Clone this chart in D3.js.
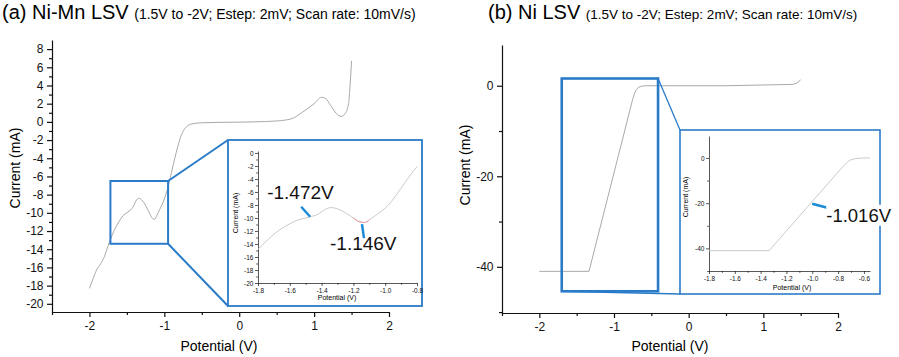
<!DOCTYPE html>
<html>
<head>
<meta charset="utf-8">
<script src="https://cdn.jsdelivr.net/npm/d3@7"></script>
<style>
  body { margin: 0; background: #fff; }
  svg { font-family: "Liberation Sans", Arial, sans-serif; }
</style>
</head>
<body>
<div id="chart"></div>
<script>
// ---- data ----
// (a) Ni-Mn LSV: potential (V) and current (mA)
var nimnV = [-2.00, -1.95, -1.90, -1.85, -1.80, -1.75, -1.70, -1.65, -1.60, -1.55, -1.50, -1.47,
             -1.42, -1.38, -1.34, -1.30, -1.25, -1.20, -1.16, -1.13, -1.10, -1.06, -1.02, -0.98,
             -0.94, -0.90, -0.86, -0.82, -0.78, -0.74, -0.70, -0.62, -0.50, -0.20, 0.20, 0.50,
             0.70, 0.85, 1.00, 1.10, 1.15, 1.22, 1.30, 1.36, 1.42, 1.46, 1.48, 1.50];
var nimnI = [-18.3, -17.2, -16.2, -15.6, -14.8, -13.6, -12.5, -11.6, -10.9, -10.3, -10.0, -9.8,
             -9.4, -8.7, -8.4, -8.6, -9.2, -10.0, -10.6, -10.7, -10.3, -9.6, -8.9, -8.0,
             -6.8, -5.4, -4.0, -2.7, -1.6, -0.9, -0.5, -0.2, -0.1, -0.05, 0.0, 0.1,
             0.35, 1.1, 2.0, 2.7, 2.6, 1.8, 0.9, 0.6, 1.0, 2.0, 4.0, 6.7];
// (b) Ni LSV
var niV = [-2.00, -1.335, -0.75, -0.72, -0.70, -0.67, -0.63, -0.58, 0.50, 1.40, 1.45, 1.50];
var niI = [-41.0, -41.0, -3.0, -1.5, -0.8, -0.35, -0.1, 0.0, 0.0, 0.3, 0.6, 1.3];

// ticks
var xTicksMain = [-2, -1, 0, 1, 2];
var xMinorMain = [-2.5, -1.5, -0.5, 0.5, 1.5];
var yTicksA = [8, 6, 4, 2, 0, -2, -4, -6, -8, -10, -12, -14, -16, -18, -20];
var yMinorA = [7, 5, 3, 1, -1, -3, -5, -7, -9, -11, -13, -15, -17, -19];
var yTicksB = [0, -20, -40];
var yMinorB = [-10, -30, -50];
var xTicksInA = [-1.8, -1.6, -1.4, -1.2, -1.0, -0.8];
var xMinorInA = [-1.7, -1.5, -1.3, -1.1, -0.9];
var yTicksInA = [0, -2, -4, -6, -8, -10, -12, -14, -16, -18, -20];
var yMinorInA = [-1, -3, -5, -7, -9, -11, -13, -15, -17, -19];
var xTicksInB = [-1.8, -1.6, -1.4, -1.2, -1.0, -0.8, -0.6];
var xMinorInB = [-1.7, -1.5, -1.3, -1.1, -0.9, -0.7];
var yTicksInB = [0, -20, -40];
var yMinorInB = [-10, -30, -50];

// zoom windows (V range, I range) and peak labels
var zoomA = [-1.72, -0.95, -6.5, -13.4];
var zoomB = [-1.70, -0.41, 1.6, -45.4];
var redPartA = [-1.20, -1.09];
var peaksA = [-1.472, -1.146];
var peakLabelsA = ["-1.472V", "-1.146V"];
var peaksB = [-1.016];
var peakLabelsB = ["-1.016V"];

var w = 899, h = 357;
var blue = "#2a7bc8";
var markBlue = "#1c8ad6";

var svg = d3.select("#chart").append("svg")
    .attr("width", w)
    .attr("height", h);
var defs = svg.append("defs");

function pairs(vs, is, lo, hi) {
    var out = [];
    vs.forEach(function(v, k) {
        if (lo === undefined || (v >= lo - 1e-9 && v <= hi + 1e-9)) out.push([v, is[k]]);
    });
    return out;
}

function interp(vs, is, v) {
    var k = d3.bisectLeft(vs, v);
    if (k <= 0) return is[0];
    var t = (v - vs[k - 1]) / (vs[k] - vs[k - 1]);
    return is[k - 1] + t * (is[k] - is[k - 1]);
}

function fmt(dec) {
    return function(d) { return d.toFixed(dec); };
}

function clipFor(id, x, y) {
    defs.append("clipPath").attr("id", id).append("rect")
        .attr("x", x.range()[0]).attr("y", y.range()[1])
        .attr("width", x.range()[1] - x.range()[0])
        .attr("height", y.range()[0] - y.range()[1]);
    return "url(#" + id + ")";
}

// draws left + bottom axes with major and minor ticks
function axes(g, x, y, o) {
    var gx = g.append("g").attr("transform", "translate(0," + y.range()[0] + ")");
    gx.call(d3.axisBottom(x).tickValues(o.xMajor).tickSize(o.tick).tickSizeOuter(0)
        .tickPadding(o.pad).tickFormat(fmt(o.xDec)));
    gx.append("g").call(d3.axisBottom(x).tickValues(o.xMinor).tickSize(o.tick * 0.6)
        .tickFormat("")).select(".domain").remove();

    var gy = g.append("g").attr("transform", "translate(" + x.range()[0] + ",0)");
    gy.call(d3.axisLeft(y).tickValues(o.yMajor).tickSize(o.tick).tickSizeOuter(0)
        .tickPadding(o.pad - 1).tickFormat(fmt(0)));
    gy.append("g").call(d3.axisLeft(y).tickValues(o.yMinor).tickSize(o.tick * 0.6)
        .tickFormat("")).select(".domain").remove();

    g.selectAll(".tick text").attr("font-size", o.font).attr("font-family", "Liberation Sans, Arial, sans-serif").attr("fill", "#111");
    g.selectAll(".domain, .tick line").attr("stroke", "#111").attr("stroke-width", o.sw);
}

function line(x, y, smooth) {
    return d3.line()
        .x(function(d) { return x(d[0]); })
        .y(function(d) { return y(d[1]); })
        .curve(smooth ? d3.curveMonotoneX : d3.curveLinear);
}

function titles(g, xc, yc, xb, yl, size) {
    g.append("text")
        .attr("text-anchor", "middle")
        .attr("x", xc).attr("y", xb)
        .attr("font-size", size)
        .text("Potential (V)");
    g.append("text")
        .attr("text-anchor", "middle")
        .attr("transform", "translate(" + yl + "," + yc + ") rotate(-90)")
        .attr("font-size", size)
        .text("Current (mA)");
}

// ================= panel (a) =================
var xA = d3.scaleLinear().domain([-2.5, 2]).range([52, 389]);
var yA = d3.scaleLinear().domain([-20.9, 9]).range([312, 40]);
var gA = svg.append("g");

var tA = gA.append("text").attr("x", 2).attr("y", 19).attr("font-size", 20);
tA.append("tspan").text("(a) Ni-Mn LSV ");
tA.append("tspan").attr("font-size", 14).text("(1.5V to -2V; Estep: 2mV; Scan rate: 10mV/s)");

axes(gA, xA, yA, { xMajor: xTicksMain, xMinor: xMinorMain, yMajor: yTicksA, yMinor: yMinorA,
    tick: 5, pad: 4.5, font: 12, xDec: 0, sw: 1.2 });
titles(gA, 219, 168, 351, 20, 14);

gA.append("path")
    .datum(pairs(nimnV, nimnI))
    .attr("d", line(xA, yA, true))
    .attr("fill", "none")
    .attr("stroke", "#a9a9a9")
    .attr("stroke-width", 1);

// inset (a)
var boxA = { x0: 228, y0: 140, x1: 422, y1: 306 };
var bx0 = xA(zoomA[0]), bx1 = xA(zoomA[1]), by0 = yA(zoomA[2]), by1 = yA(zoomA[3]);
gA.append("line").attr("x1", bx1).attr("y1", by0).attr("x2", boxA.x0).attr("y2", boxA.y0)
    .attr("stroke", blue).attr("stroke-width", 2);
gA.append("line").attr("x1", bx1).attr("y1", by1).attr("x2", boxA.x0).attr("y2", boxA.y1)
    .attr("stroke", blue).attr("stroke-width", 2);
gA.append("rect").attr("x", bx0).attr("y", by0).attr("width", bx1 - bx0).attr("height", by1 - by0)
    .attr("fill", "none").attr("stroke", blue).attr("stroke-width", 2);
gA.append("rect").attr("x", boxA.x0).attr("y", boxA.y0)
    .attr("width", boxA.x1 - boxA.x0).attr("height", boxA.y1 - boxA.y0)
    .attr("fill", "#fff").attr("stroke", blue).attr("stroke-width", 1.8);

var xIA = d3.scaleLinear().domain([-1.8, -0.8]).range([258, 417]);
var yIA = d3.scaleLinear().domain([-20, 0.3]).range([283, 151]);
var gIA = gA.append("g");
axes(gIA, xIA, yIA, { xMajor: xTicksInA, xMinor: xMinorInA, yMajor: yTicksInA, yMinor: yMinorInA,
    tick: 3, pad: 2.5, font: 6.5, xDec: 1, sw: 0.7 });
titles(gIA, 337, 213, 300, 238, 7);

var clipA = clipFor("clipIA", xIA, yIA);
gIA.append("path")
    .datum(pairs(nimnV, nimnI))
    .attr("clip-path", clipA)
    .attr("d", line(xIA, yIA, true))
    .attr("fill", "none")
    .attr("stroke", "#c4c4c4")
    .attr("stroke-width", 0.9);
gIA.append("path")
    .datum(pairs(nimnV, nimnI, redPartA[0], redPartA[1]))
    .attr("d", line(xIA, yIA, true))
    .attr("fill", "none")
    .attr("stroke", "#e89a9a")
    .attr("stroke-width", 1);

// peak marks (a): [line dx1, dy1, dx2, dy2, text dx, text dy] from the curve point
var markA = [[-9, -10, 0, 0, -43, -18], [0, 2, 2, 16, -32, 28]];
peaksA.forEach(function(v, k) {
    var px = xIA(v), py = yIA(interp(nimnV, nimnI, v)), m = markA[k];
    gIA.append("line")
        .attr("x1", px + m[0]).attr("y1", py + m[1])
        .attr("x2", px + m[2]).attr("y2", py + m[3])
        .attr("stroke", markBlue).attr("stroke-width", 2.5);
    gIA.append("text")
        .attr("x", px + m[4]).attr("y", py + m[5])
        .attr("font-size", 19)
        .attr("fill", "#111")
        .text(peakLabelsA[k]);
});

// ================= panel (b) =================
var xB = d3.scaleLinear().domain([-2.5, 2]).range([502, 838]);
var yB = d3.scaleLinear().domain([-50.2, 9]).range([313, 45]);
var gB = svg.append("g");

var tB = gB.append("text").attr("x", 488).attr("y", 19).attr("font-size", 20);
tB.append("tspan").text("(b) Ni LSV ");
tB.append("tspan").attr("font-size", 13.5).text("(1.5V to -2V; Estep: 2mV; Scan rate: 10mV/s)");

axes(gB, xB, yB, { xMajor: xTicksMain, xMinor: xMinorMain, yMajor: yTicksB, yMinor: yMinorB,
    tick: 5, pad: 4.5, font: 12, xDec: 0, sw: 1.2 });
titles(gB, 670, 165, 351, 470, 14);

gB.append("path")
    .datum(pairs(niV, niI))
    .attr("d", line(xB, yB, false))
    .attr("fill", "none")
    .attr("stroke", "#a9a9a9")
    .attr("stroke-width", 1);

var boxB = { x0: 680, y0: 130, x1: 880, y1: 294 };
var cx0 = xB(zoomB[0]), cx1 = xB(zoomB[1]), cy0 = yB(zoomB[2]), cy1 = yB(zoomB[3]);
gB.append("line").attr("x1", cx1).attr("y1", cy0).attr("x2", boxB.x0).attr("y2", boxB.y0)
    .attr("stroke", blue).attr("stroke-width", 1.3);
gB.append("line").attr("x1", cx0).attr("y1", cy1).attr("x2", boxB.x0).attr("y2", boxB.y1)
    .attr("stroke", blue).attr("stroke-width", 1.3);
gB.append("rect").attr("x", cx0).attr("y", cy0).attr("width", cx1 - cx0).attr("height", cy1 - cy0)
    .attr("fill", "none").attr("stroke", blue).attr("stroke-width", 2.6);
gB.append("rect").attr("x", boxB.x0).attr("y", boxB.y0)
    .attr("width", boxB.x1 - boxB.x0).attr("height", boxB.y1 - boxB.y0)
    .attr("fill", "#fff").attr("stroke", blue).attr("stroke-width", 1.6);

var xIB = d3.scaleLinear().domain([-1.8, -0.553]).range([709, 870]);
var yIB = d3.scaleLinear().domain([-50, 9.7]).range([271, 136]);
var gIB = gB.append("g");
axes(gIB, xIB, yIB, { xMajor: xTicksInB, xMinor: xMinorInB, yMajor: yTicksInB, yMinor: yMinorInB,
    tick: 3, pad: 2.5, font: 6.5, xDec: 1, sw: 0.7 });
titles(gIB, 792, 197, 290, 688, 7);

var clipB = clipFor("clipIB", xIB, yIB);
gIB.append("path")
    .datum(pairs(niV, niI))
    .attr("clip-path", clipB)
    .attr("d", line(xIB, yIB, false))
    .attr("fill", "none")
    .attr("stroke", "#c4c4c4")
    .attr("stroke-width", 0.9);

var markB = [[2, 0, 17, 4, 16, 18]];
peaksB.forEach(function(v, k) {
    var px = xIB(v), py = yIB(interp(niV, niI, v)), m = markB[k];
    gIB.append("line")
        .attr("x1", px + m[0]).attr("y1", py + m[1])
        .attr("x2", px + m[2]).attr("y2", py + m[3])
        .attr("stroke", markBlue).attr("stroke-width", 2.5);
    var t = gIB.append("text")
        .attr("x", px + m[4]).attr("y", py + m[5])
        .attr("font-size", 18.5)
        .attr("fill", "#111")
        .text(peakLabelsB[k]);
    var bb = t.node().getBBox();
    gIB.insert("rect", function() { return t.node(); })
        .attr("x", bb.x).attr("y", bb.y).attr("width", bb.width).attr("height", bb.height)
        .attr("fill", "#fff");
});
</script>
</body>
</html>
